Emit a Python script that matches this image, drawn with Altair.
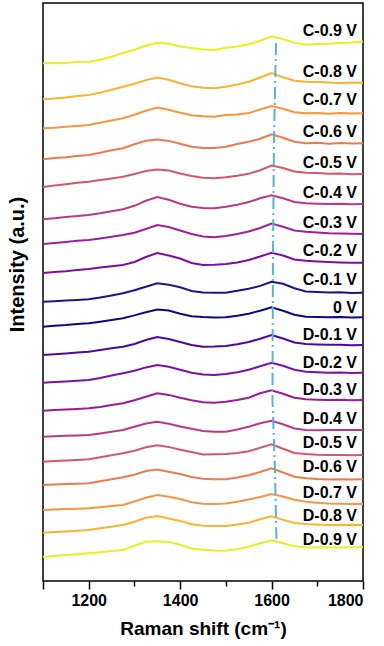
import altair as alt
import pandas as pd

# Raman shift sampling (cm^-1)
raman_shift = [1100, 1125, 1150, 1175, 1200, 1225, 1250, 1275, 1300, 1325,
               1350, 1375, 1400, 1425, 1450, 1475, 1500, 1525, 1550, 1575,
               1600, 1625, 1650, 1675, 1700, 1725, 1750, 1775, 1800]

# Spectra (a.u., relative to each trace's value at 1100 cm^-1)
c_09 = [0, 0.5, 0.2, 1.2, 1.5, 3.5, 6.5, 10.3, 13.5, 17.5, 20.6, 19.5, 16.8, 15.2, 13.8,
        13.2, 15.6, 16.8, 19, 22.5, 27, 24, 20.5, 18.5, 19.2, 19.5, 20.3, 20.8, 21.8]
c_08 = [0, 0.8, 1.8, 3.2, 4.3, 6.5, 9.5, 12.6, 15.5, 19.2, 21.8, 19.5, 16, 13, 11.5,
        11, 12.5, 14.8, 17.5, 21.8, 26.3, 22, 18.5, 17.6, 17.2, 16.8, 16.2, 16.8, 16.6]
c_07 = [0, 0.6, 1.5, 2.4, 3.3, 5.5, 7.8, 10, 13.5, 17.5, 20.8, 18.5, 15.5, 13, 12,
        11.5, 13.3, 13.8, 15.2, 18.8, 22.2, 19.5, 16, 15, 15.3, 14.6, 15.2, 14.8, 15]
c_06 = [0, 1.2, 2, 3.3, 4.3, 6.5, 9, 11, 15, 18.5, 19.8, 18.4, 15.6, 12.6, 11.3,
        11.2, 12.6, 15.3, 17.5, 20.5, 25, 21.6, 17.5, 16, 16.5, 15.6, 16.3, 15.8, 16]
c_05 = [0, 1.5, 2.8, 4.2, 5.3, 7, 8.6, 10.3, 13, 16, 17.6, 16.5, 13.5, 11, 9.2,
        8.8, 9.7, 11.2, 13.2, 16.8, 21.5, 19, 15.5, 14.2, 14, 13.2, 13.5, 12.8, 13]
c_04 = [0, 1, 2.2, 3.3, 4.3, 6, 8, 10, 13.5, 18.5, 22.3, 19.5, 15.6, 12.6, 11.3,
        11, 12.6, 14.6, 17.2, 21, 24, 21, 17.4, 16, 15.6, 15.2, 15.6, 15, 15.3]
c_03 = [0, 1, 2, 3.2, 4, 5.6, 7.3, 9, 11.2, 15, 19, 17, 13.5, 10, 7.5,
        6.7, 8, 10, 12.5, 16, 20.5, 17.3, 13.5, 12.3, 11.5, 10.8, 10.4, 10.2, 10]
c_02 = [0, 1, 1.8, 3, 4, 5.5, 6.8, 8, 11, 16, 20, 17.5, 14.5, 10, 8,
        8.2, 9, 10.5, 13, 16.5, 20.3, 17.5, 13.5, 12.2, 11.5, 11, 10.6, 10.2, 10.3]
c_01 = [0, 0.5, 1.2, 1.8, 2.4, 4.2, 6.3, 8.4, 11.5, 15, 18.5, 17, 14.5, 10.8, 9.3,
        9, 9, 11, 13, 15.8, 20, 18, 13.5, 10.2, 9.6, 9.2, 9.4, 8.8, 9]
v_00 = [0, 1, 1.6, 2.7, 3.4, 5, 6.8, 8.4, 11.3, 14.5, 17.2, 16.2, 13, 10.5, 9.6,
        9.2, 9.4, 11, 13, 16, 19.4, 16, 12, 10, 9.8, 9.4, 9.6, 9.2, 9.4]
d_01 = [0, 0.8, 1.6, 2.6, 3.3, 5, 6.8, 8.3, 11, 15, 18, 16, 13, 10, 8.3,
        8.5, 9, 10.8, 13, 16.3, 20, 16.5, 12.5, 11, 10.6, 10.2, 10.3, 9.8, 10]
d_02 = [0, 0.6, 1.2, 2, 2.7, 4.7, 7.2, 9.4, 12, 15.3, 17.7, 16, 13, 10, 8.3,
        7.7, 8.7, 10.5, 13, 16.5, 20, 17, 13, 11, 10.4, 10, 10.3, 9.8, 10]
d_03 = [0, 0.6, 1.2, 1.8, 2.4, 3.8, 5.6, 7.4, 10.5, 14, 17.4, 15.8, 13, 10.5, 8.5,
        8, 9, 10.7, 13, 17.5, 20.5, 17, 13, 11.4, 11, 10.6, 10.9, 10.5, 10.7]
d_04 = [0, 0.4, 0.9, 1.3, 1.7, 3.3, 5, 6.7, 10, 13.2, 15, 13, 10.2, 8, 5.6,
        5, 5, 7.3, 10, 13.5, 16, 12.5, 8.3, 6.7, 6.5, 6.8, 6.6, 6.8, 6.7]
d_05 = [0, 0.6, 1.2, 1.8, 2.4, 4.4, 6.4, 8.4, 11, 14.5, 16.5, 14.8, 12, 9.8, 7.2,
        7.4, 7.7, 8.6, 10.5, 14, 17.5, 13, 8.8, 7.7, 7, 6.6, 6.8, 6.5, 6.7]
d_06 = [0, 0.4, 0.9, 1.3, 1.7, 3.7, 5.7, 7.7, 10.3, 14, 15.5, 13.2, 11, 8, 6.2,
        5.7, 5.7, 7.5, 9.8, 13, 16.6, 12.5, 8.2, 6.7, 6, 5.6, 5.8, 5.5, 5.7]
d_07 = [0, 0.4, 0.9, 1.3, 1.7, 2.8, 3.9, 5, 8.5, 12.2, 15, 13.3, 11, 7.8, 6.3,
        6, 6.5, 8.2, 10.5, 13, 16, 13.5, 10.2, 8.3, 7.2, 6.5, 6.3, 6, 6]
d_08 = [0, 0.7, 1.3, 2, 2.7, 4.4, 6, 7.7, 11, 15, 16.6, 14.3, 11.8, 8.5, 7,
        6.7, 6.7, 8.2, 10, 13.5, 16.5, 12.8, 9.8, 8.7, 8.2, 7.8, 7.9, 7.6, 7.7]
d_09 = [0, 0.8, 1.7, 2.5, 3.4, 4.4, 5.6, 6.7, 11, 15, 15.5, 14.8, 12, 8.3, 7,
        6.3, 6, 7.6, 10, 13.5, 16.5, 13.5, 10.5, 9.4, 9.2, 9.5, 9.3, 9.4, 9.4]

labels = ["C-0.9 V", "C-0.8 V", "C-0.7 V", "C-0.6 V", "C-0.5 V", "C-0.4 V",
          "C-0.3 V", "C-0.2 V", "C-0.1 V", "0 V", "D-0.1 V", "D-0.2 V",
          "D-0.3 V", "D-0.4 V", "D-0.5 V", "D-0.6 V", "D-0.7 V", "D-0.8 V",
          "D-0.9 V"]
spectra = [c_09, c_08, c_07, c_06, c_05, c_04, c_03, c_02, c_01, v_00,
           d_01, d_02, d_03, d_04, d_05, d_06, d_07, d_08, d_09]

# Vertical stacking offset of each trace (a.u.)
offsets = [517.7, 481.7, 452.7, 421.7, 394, 361.7, 337, 308, 279.3, 254.3,
           226, 198.3, 170.3, 144.3, 119.3, 96, 71, 48.3, 24.3]
# Height of each trace's label (a.u.)
label_heights = [550.3, 509.3, 481, 449.3, 417.7, 388.3, 357.7, 330.3, 301, 272.7,
                 246, 217.7, 191, 161.7, 137.7, 114.3, 88.3, 65, 41]

colors = ["#eaf020", "#fbb42e", "#f89540", "#ee7a4f", "#d8566b", "#bd3786",
          "#9e1f9c", "#7c0ca6", "#1f138c", "#0d0887", "#4a0aa0", "#7c10a8",
          "#9c1a9e", "#bd3786", "#d8566b", "#ee7a4f", "#f89540", "#fbb42e",
          "#eaf020"]

# G-band guide line
g_band_shift = [1609.7, 1605.3, 1603.1, 1602.0, 1607.5, 1610.8]
g_band_level = [538, 441, 331, 181, 111, 39]

FONT = "Liberation Sans"

rows = []
for lab, spec, off in zip(labels, spectra, offsets):
    for x, v in zip(raman_shift, spec):
        rows.append({"series": lab, "shift": x, "intensity": v + off})
spec_df = pd.DataFrame(rows)

label_df = pd.DataFrame({"series": labels, "intensity": label_heights})
guide_df = pd.DataFrame({"shift": g_band_shift, "intensity": g_band_level,
                         "seq": list(range(len(g_band_shift)))})

x_scale = alt.Scale(domain=[1100, 1800], nice=False, zero=False)
y_scale = alt.Scale(domain=[0, 578], nice=False, zero=False)
color_scale = alt.Scale(domain=labels, range=colors)

x_axis = alt.Axis(
    values=[1100, 1200, 1300, 1400, 1500, 1600, 1700, 1800],
    format="d",
    labelExpr="datum.value % 200 == 0 ? datum.label : ''",
    tickSize={"condition": {"test": "datum.value % 200 == 0 || datum.value == 1100", "value": 8}, "value": 5},
    tickWidth=1.5, tickColor="black", domain=False, grid=False,
    labelFont=FONT, labelFontSize=16, labelFontWeight="bold", labelColor="black",
    labelPadding=3,
    title="Raman shift (cm⁻¹)", titleFont=FONT, titleFontSize=19,
    titleFontWeight="bold", titleColor="black",
    titleY=47, titleBaseline="middle",
)
y_axis = alt.Axis(
    labels=False, ticks=False, domain=False, grid=False,
    title="Intensity (a.u.)", titleFont=FONT, titleFontSize=20,
    titleFontWeight="bold", titleColor="black",
    titleX=-26, titleY=261, titleAngle=270, titleAlign="center",
    titleBaseline="middle",
)

lines = alt.Chart(spec_df).mark_line(strokeWidth=2, clip=True).encode(
    x=alt.X("shift:Q", scale=x_scale, axis=x_axis),
    y=alt.Y("intensity:Q", scale=y_scale, axis=y_axis),
    color=alt.Color("series:N", scale=color_scale, legend=None),
    detail="series:N",
)

guide = alt.Chart(guide_df).mark_line(
    color="#56b4d6", strokeWidth=2, strokeDash=[12, 4, 2, 4]
).encode(
    x=alt.X("shift:Q", scale=x_scale, axis=x_axis),
    y=alt.Y("intensity:Q", scale=y_scale, axis=y_axis),
    order="seq:Q",
)

texts = alt.Chart(label_df).mark_text(
    align="right", baseline="middle", font=FONT, fontSize=16,
    fontWeight="bold", color="black"
).encode(
    x=alt.value(314),
    y=alt.Y("intensity:Q", scale=y_scale, axis=y_axis),
    text="series:N",
)

chart = alt.layer(lines, guide, texts).properties(
    width=320, height=578,
    autosize=alt.AutoSizeParams(type="none"),
    padding={"left": 43, "top": 3, "right": 21, "bottom": 65},
).configure_view(stroke="black", strokeWidth=1.5)

chart.save("out.html", embed_options={"renderer": "svg", "actions": False})
